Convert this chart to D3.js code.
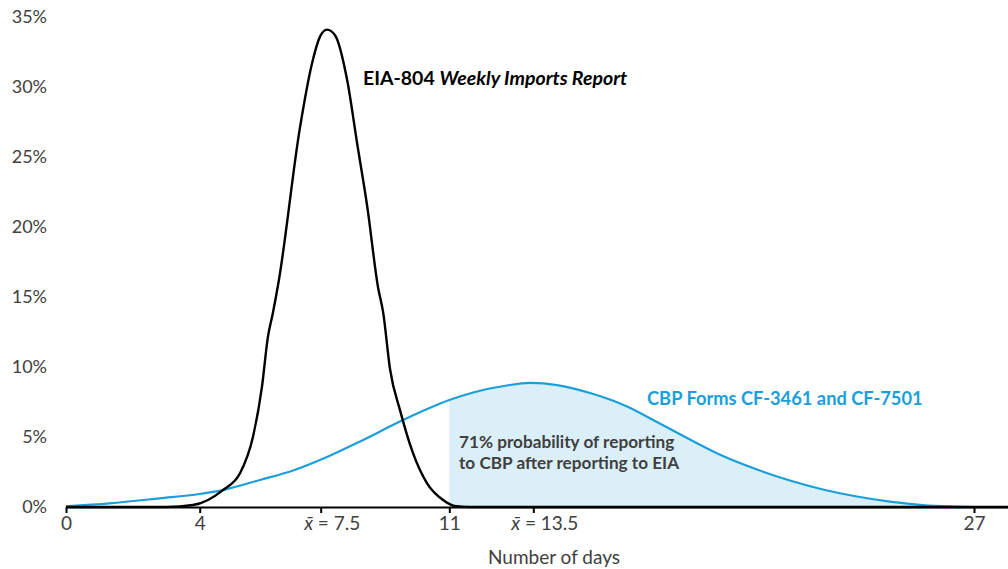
<!DOCTYPE html>
<html>
<head>
<meta charset="utf-8">
<script src="https://cdn.jsdelivr.net/npm/d3@7"></script>
<style>
  html, body { margin: 0; padding: 0; background: #ffffff; }
  svg { display: block; }
  text { font-family: Lato, "Open Sans", sans-serif; }
</style>
</head>
<body>
<svg id="chart" width="1008" height="569"></svg>
<script>
// ---- data (days, percent) ----
const eiaDays = [0, 3.0, 3.8, 4.67, 5.17, 5.54, 5.80, 5.97, 6.12, 6.29, 6.9, 7.25, 7.48, 7.67, 7.89, 8.22, 8.49, 8.77, 9.06, 9.2, 9.39, 9.66, 10.01, 10.39, 10.83, 11.2, 11.6, 28];
const eiaPct  = [0, 0, 0.14, 1.21, 2.43, 5.0, 8.57, 12.1, 13.9, 16.2, 27.1, 31.7, 33.6, 34.1, 33.7, 30.5, 26.0, 21.4, 15.7, 13.9, 9.8, 6.9, 3.86, 1.71, 0.5, 0.05, 0, 0];

const cbpDays = [0, 1.3, 2.8, 4.0, 4.67, 5.74, 6.70, 7.67, 8.57, 9.74, 10.40, 11, 11.71, 12.71, 13.40, 14.23, 15.24, 16.37, 17.29, 18.30, 19.31, 20.35, 21.36, 22.37, 23.41, 24.42, 25.43, 26.26, 27, 28];
const cbpPct  = [0.05, 0.26, 0.62, 0.93, 1.21, 1.93, 2.61, 3.57, 4.68, 6.21, 7.0, 7.64, 8.18, 8.68, 8.86, 8.71, 8.14, 7.18, 6.07, 4.82, 3.64, 2.68, 1.89, 1.25, 0.75, 0.39, 0.14, 0.04, 0, 0];

const xTickValues = [0, 4, 7.5, 11, 13.5, 27];
const xTickLabels = ["0", "4", "x̄ = 7.5", "11", "x̄ = 13.5", "27"];
const yTickValues = [0, 5, 10, 15, 20, 25, 30, 35];
const shadeStart = 11;

const eiaLabel = ["EIA-804 ", "Weekly Imports Report"];
const cbpLabel = "CBP Forms CF-3461 and CF-7501";
const probLabel = ["71% probability of reporting", "to CBP after reporting to EIA"];
const xTitle = "Number of days";

// ---- build ----
const svg = d3.select("#chart");
const BLUE = "#1a9fdb", SHADE = "#dbeff8", GREY = "#404040";

// Excel-drawn axis: the labelled ticks are not evenly spaced, so a piecewise scale
const x = d3.scaleLinear()
  .domain([0, 4, 7.5, 11, 13.5, 27, 28])
  .range([66, 199.7, 320.7, 449.3, 533.3, 974, 1008]);
const y = d3.scaleLinear().domain([0, 35]).range([507, 17]);

const eia = eiaDays.map((d, i) => ({ d, p: eiaPct[i] }));
const cbp = cbpDays.map((d, i) => ({ d, p: cbpPct[i] }));

// shaded area
const area = d3.area().x(v => x(v.d)).y0(y(0)).y1(v => y(v.p)).curve(d3.curveMonotoneX);
svg.append("path").datum(cbp.filter(v => v.d >= shadeStart))
  .attr("d", area).attr("fill", SHADE);

// y axis labels
const yAxis = d3.axisLeft(y).tickValues(yTickValues).tickSize(0).tickPadding(0)
  .tickFormat(v => v + "%");
const gy = svg.append("g").attr("transform", "translate(47,0)").call(yAxis);
gy.select(".domain").remove();
gy.selectAll("text").attr("font-size", 18).attr("fill", GREY)
  .style("font-family", "Lato, 'Open Sans', sans-serif");

// lines
const line = d3.line().x(v => x(v.d)).y(v => y(v.p)).curve(d3.curveMonotoneX);
svg.append("path").datum(cbp).attr("d", line)
  .attr("fill", "none").attr("stroke", BLUE).attr("stroke-width", 2.2);
svg.append("path").datum(eia).attr("d", line)
  .attr("fill", "none").attr("stroke", "#000").attr("stroke-width", 2.4);

// x axis
const xAxis = d3.axisBottom(x).tickValues(xTickValues).tickSize(6).tickSizeOuter(0)
  .tickPadding(4).tickFormat((v, i) => xTickLabels[i]);
const gx = svg.append("g").attr("transform", `translate(0,${y(0)})`).call(xAxis);
gx.select(".domain").attr("stroke", "#000").attr("stroke-width", 2);
gx.selectAll(".tick line").attr("stroke", "#000").attr("stroke-width", 2);
gx.selectAll("text").attr("font-size", 19).attr("fill", GREY)
  .style("font-family", "Lato, 'Open Sans', sans-serif")
  .attr("dx", (v, i) => xTickLabels[i].startsWith("x̄") ? 11 : 0)
  .each(function (v, i) {
    const lab = xTickLabels[i];
    if (lab.startsWith("x̄")) {
      const t = d3.select(this).text(null);
      t.append("tspan").attr("font-style", "italic").text("x̄");
      t.append("tspan").text(lab.slice(2));
    }
  });

// axis title
svg.append("text").attr("x", 554).attr("y", 564).attr("text-anchor", "middle")
  .attr("font-size", 19).attr("fill", GREY).text(xTitle);

// annotations
const t1 = svg.append("text").attr("x", 363).attr("y", 85)
  .attr("font-size", 19.5).attr("font-weight", "bold").attr("fill", "#000");
t1.append("tspan").text(eiaLabel[0]);
t1.append("tspan").attr("font-style", "italic").text(eiaLabel[1]);

svg.append("text").attr("x", 647).attr("y", 405)
  .attr("font-size", 18.3).attr("font-weight", "bold").attr("fill", BLUE).text(cbpLabel);

svg.append("text").attr("x", 459).attr("y", 448)
  .attr("font-size", 17.2).attr("font-weight", "bold").attr("fill", GREY)
  .selectAll("tspan").data(probLabel).join("tspan")
  .attr("x", 459).attr("dy", (d, i) => i ? 21 : 0).text(d => d);
</script>
</body>
</html>
